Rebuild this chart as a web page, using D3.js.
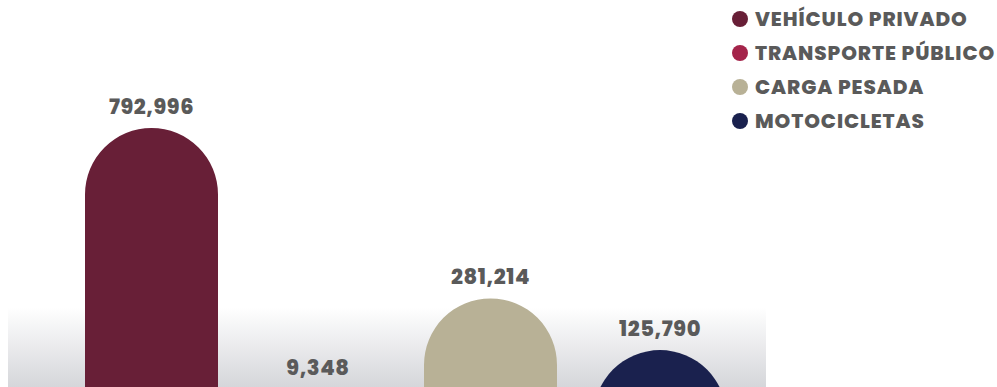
<!DOCTYPE html>
<html><head><meta charset="utf-8">
<script src="https://cdn.jsdelivr.net/npm/d3@7"></script>
<style>html,body{margin:0;padding:0;background:#fff;overflow:hidden}</style>
</head><body>
<svg id="c" width="997" height="387"></svg>
<script>
const categories = ["VEHÍCULO PRIVADO","TRANSPORTE PÚBLICO","CARGA PESADA","MOTOCICLETAS"];
const values = [792996, 9348, 281214, 125790];
const colors = ["#681f37","#a4244a","#b8b196","#1a214e"];

const W = 997, H = 387;
const svg = d3.select("#c");
const defs = svg.append("defs");
const g = defs.append("linearGradient").attr("id","bg").attr("x1",0).attr("y1",0).attr("x2",0).attr("y2",1);
g.append("stop").attr("offset","0%").attr("stop-color","#ffffff");
g.append("stop").attr("offset","100%").attr("stop-color","#d5d6da");
svg.append("rect").attr("x",8).attr("y",307).attr("width",758).attr("height",H-307).attr("fill","url(#bg)");

const x = d3.scalePoint().domain(categories).range([151.5, 660]);
const y = d3.scaleLinear().domain([0, 792996]).range([392, 128]);
const bw = 133;
const font = "'Poppins','Inter','Open Sans',sans-serif";

function pill(cx, top, w){
  const r = w/2, bottom = H + 200;
  return `M${cx-r},${bottom} L${cx-r},${top+r} A${r},${r} 0 0 1 ${cx+r},${top+r} L${cx+r},${bottom} Z`;
}
const data = categories.map((c,i)=>({c, v: values[i], col: colors[i]}));
svg.selectAll("path.bar").data(data).join("path").attr("class","bar")
  .attr("d", d => pill(x(d.c), y(d.v), bw))
  .attr("fill", d => d.col);
svg.selectAll("text.val").data(data).join("text").attr("class","val")
  .attr("x", d => x(d.c) - (d.c === categories[1] ? 3 : 0))
  .attr("y", d => y(d.v) - 14)
  .attr("text-anchor","middle")
  .attr("font-family", font).attr("font-weight", 800).attr("font-size", 21)
  .attr("letter-spacing", 0.6)
  .attr("fill","#5a5a5a")
  .text(d => d3.format(",")(d.v));

const leg = svg.append("g");
data.forEach((d,i)=>{
  const cy = 19 + i*34;
  leg.append("circle").attr("cx",740).attr("cy",cy).attr("r",8).attr("fill",d.col);
  leg.append("text").attr("x",755).attr("y",cy+7).attr("font-family",font).attr("font-weight",800)
    .attr("font-size",20).attr("letter-spacing",0.9).attr("fill","#5a5a5a").text(d.c);
});
</script>
</body></html>
